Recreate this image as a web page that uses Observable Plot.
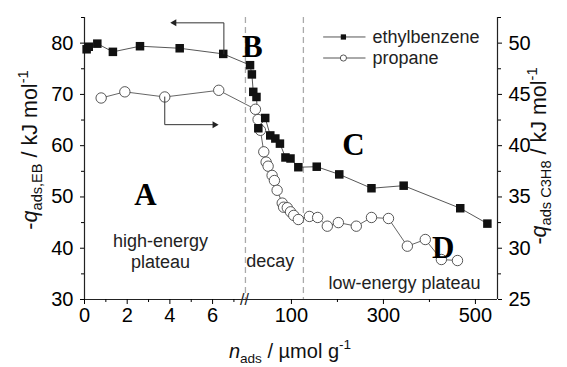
<!DOCTYPE html>
<html><head><meta charset="utf-8">
<script src="https://cdn.jsdelivr.net/npm/d3@7"></script>
<script src="https://cdn.jsdelivr.net/npm/@observablehq/plot@0.6"></script>
<style>body{margin:0;background:#fff}</style>
</head><body><div id="chart"></div>
<script>
// ---- data ----
// ethylbenzene, left axis (kJ/mol); "Low" = 0–7 µmol/g segment, "High" = segment after the axis break
const ebLowX  = [0.1, 0.2, 0.6, 1.33, 2.6, 4.46, 6.5];
const ebLowY  = [78.8, 79.3, 79.9, 78.3, 79.4, 79.0, 77.9];
const ebHighX = [10, 14, 17, 24, 28, 43, 54, 65, 75, 87, 98, 115, 155, 204, 274, 344, 467, 526];
const ebHighY = [75.7, 73.9, 70.5, 69.5, 63.4, 65.4, 62.0, 61.4, 60.4, 57.7, 57.5, 55.8, 55.9, 54.4, 51.7, 52.2, 47.8, 44.8];
// propane, right axis (kJ/mol)
const prLowX  = [0.78, 1.89, 3.76, 6.29];
const prLowY  = [44.65, 45.25, 44.75, 45.4];
const prHighX = [21.7, 27.5, 32.6, 39.9, 45, 49.3, 58, 63, 68.9, 80, 83, 91, 98, 105, 115, 139, 157, 178, 202, 241, 274, 311, 352, 391, 426, 461];
const prHighY = [43.55, 42.55, 41.5, 39.4, 38.4, 38.0, 37.1, 36.6, 35.65, 34.4, 34.0, 33.95, 33.55, 33.2, 32.8, 33.1, 33.0, 32.15, 32.5, 32.15, 33.0, 32.9, 30.2, 30.85, 28.9, 28.8];
// axis ticks
const xMajorLow = [0, 2, 4, 6];
const xMinorLow = [1, 3, 5, 7];
const xMajorHigh = [100, 300, 500];
const xMinorHigh = [200, 400];
const yLeftMajor = [30, 40, 50, 60, 70, 80];
const yLeftMinor = [35, 45, 55, 65, 75, 85];
const seriesNames = ["ethylbenzene", "propane"];
const regionLabels = ["high-energy\nplateau", "decay", "low-energy plateau"];
const letters = ["A", "B", "C", "D"];

// broken x axis: low segment 0..BRK, high segment (0..HMAX) compressed by K after the break
const BRK = 7.54, K = 0.02155, HMAX = 548;
const uL = x => x;
const uH = x => BRK + x * K;
// right axis (propane) <-> left axis units
const toLeft = r => 30 + (r - 25) * 2;
const toRight = l => 25 + (l - 30) / 2;

const eb = [
  ...ebLowX.map((x, i) => ({u: uL(x), y: ebLowY[i]})),
  ...ebHighX.map((x, i) => ({u: uH(x), y: ebHighY[i]}))
];
const pr = [
  ...prLowX.map((x, i) => ({u: uL(x), y: toLeft(prLowY[i])})),
  ...prHighX.map((x, i) => ({u: uH(x), y: toLeft(prHighY[i])}))
];
const xMajor = [...xMajorLow.map(d => ({u: uL(d), t: String(d)})), ...xMajorHigh.map(d => ({u: uH(d), t: String(d)}))];
const xMinor = [...xMinorLow.map(uL), ...xMinorHigh.map(uH)];
const labelOf = new Map(xMajor.map(d => [d.u, d.t]));

// annotation placements (data units)
const letterPos = [{t: letters[0], u: uL(2.86), y: 50.3}, {t: letters[1], u: uH(15), y: 79.2},
                   {t: letters[2], u: uH(235), y: 60.1}, {t: letters[3], u: uH(430), y: 40}];
const regionPos = [{t: regionLabels[0], u: uL(3.56), y: 39.5}, {t: regionLabels[1], u: uH(54), y: 37.6},
                   {t: regionLabels[2], u: uH(346), y: 33.3}];
const ebArrow = [{u: uL(6.53), y: 77.9}, {u: uL(6.53), y: 83.96}, {u: uL(4.3), y: 83.96}];
const prArrow = [{u: uL(3.76), y: 69.5}, {u: uL(3.76), y: 64.1}, {u: uL(6.0), y: 64.1}];
const legend = [
  {name: seriesNames[0], y: 81.2, fill: "#111", symbol: "square", stroke: "none"},
  {name: seriesNames[1], y: 77.1, fill: "white", symbol: "circle", stroke: "#444"}
];
const LEG = {x1: uH(169), x2: uH(261), xm: uH(213), xt: uH(276)};

const FS = 19;

const svg = Plot.plot({
  width: 567, height: 367,
  marginLeft: 84, marginRight: 70, marginTop: 17, marginBottom: 68,
  x: {domain: [0, uH(HMAX)]},
  y: {domain: [30, 85]},
  style: {fontFamily: "Liberation Sans, Arial, sans-serif", fontSize: FS + "px", background: "white", color: "black"},
  marks: [
    Plot.ruleX([uH(0), uH(126)], {stroke: "#aaa", strokeWidth: 1.3, strokeDasharray: "6,4"}),
    // axis lines
    Plot.ruleY([30], {stroke: "#222", strokeWidth: 1.2}),
    Plot.ruleX([0, uH(HMAX)], {stroke: "#222", strokeWidth: 1.2}),
    // x axis
    Plot.axisX(xMajor.map(d => d.u), {tickSize: 5, tickPadding: 3, tickFormat: d => labelOf.get(d), label: null, fontSize: FS + 1}),
    Plot.axisX(xMinor, {tickSize: 3, tickFormat: () => "", label: null}),
    // left y axis
    Plot.axisY(yLeftMajor, {anchor: "left", tickSize: 4, tickPadding: 7, label: null, fontSize: FS + 1}),
    Plot.axisY(yLeftMinor, {anchor: "left", tickSize: 3, tickFormat: () => "", label: null}),
    // right y axis (propane)
    Plot.axisY(yLeftMajor, {anchor: "right", tickSize: 4, tickPadding: 7, tickFormat: d => String(toRight(d)), label: null, fontSize: FS + 1}),
    Plot.axisY(yLeftMinor, {anchor: "right", tickSize: 3, tickFormat: () => "", label: null}),
    // axis break mark
    Plot.text([uH(0)], {x: d => d - 0.05, y: () => 30, text: () => "//", fontSize: 16, fill: "#222"}),
    // series
    Plot.line(eb, {x: "u", y: "y", stroke: "#444", strokeWidth: 0.9}),
    Plot.line(pr, {x: "u", y: "y", stroke: "#555", strokeWidth: 0.9}),
    Plot.dot(pr, {x: "u", y: "y", r: 5.2, fill: "white", stroke: "#444", strokeWidth: 0.9}),
    Plot.dot(eb, {x: "u", y: "y", r: 4.8, symbol: "square", fill: "#111"}),
    // arrows
    Plot.line(ebArrow, {x: "u", y: "y", stroke: "#333", strokeWidth: 1}),
    Plot.line(prArrow, {x: "u", y: "y", stroke: "#333", strokeWidth: 1}),
    Plot.dot([ebArrow[2]], {x: "u", y: "y", symbol: "triangle", r: 2.6, fill: "#222", rotate: -90, dx: -2}),
    Plot.dot([prArrow[2]], {x: "u", y: "y", symbol: "triangle", r: 2.6, fill: "#222", rotate: 90, dx: 2}),
    // region labels
    Plot.text(regionPos, {x: "u", y: "y", text: "t", fontSize: 18, fill: "#222", lineHeight: 1.15}),
    // letters
    Plot.text(letterPos, {x: "u", y: "y", text: "t", fontSize: 31, fontWeight: "bold", fontFamily: "Liberation Serif, Times New Roman, serif", fill: "black"}),
    // legend
    Plot.link(legend, {x1: () => LEG.x1, x2: () => LEG.x2, y1: "y", y2: "y", stroke: "#555", strokeWidth: 1}),
    Plot.dot(legend, {x: () => LEG.xm, y: "y", symbol: "symbol", fill: "fill", stroke: "stroke", r: d => d.symbol === "square" ? 4.2 : 4.5, strokeWidth: 0.9}),
    Plot.text(legend, {x: () => LEG.xt, y: "y", text: "name", textAnchor: "start", fontSize: 18, fill: "#222"})
  ]
});

// axis titles with sub/superscripts
const s = d3.select(svg);
function title(x, y, rot, parts, fs) {
  const t = s.append("text")
    .attr("transform", `translate(${x},${y}) rotate(${rot})`)
    .attr("text-anchor", "middle")
    .attr("font-family", "Liberation Sans, Arial, sans-serif")
    .attr("font-size", fs)
    .attr("fill", "#111");
  for (const p of parts) {
    const ts = t.append("tspan").text(p.t);
    if (p.i) ts.attr("font-style", "italic");
    if (p.sub) ts.attr("font-size", fs * 0.68).attr("dy", 5);
    if (p.sup) ts.attr("font-size", fs * 0.68).attr("dy", -9);
    if (p.back) ts.attr("dy", p.back);
  }
}
title(290, 358, 0, [{t: "n", i: true}, {t: "ads", sub: true}, {t: " / µmol g", back: -5}, {t: "-1", sup: true}], 20);
title(37, 150, -90, [{t: "-"}, {t: "q", i: true}, {t: "ads,EB", sub: true}, {t: " / kJ mol", back: -5}, {t: "-1", sup: true}], 21.5);
title(546, 156, -90, [{t: "-"}, {t: "q", i: true}, {t: "ads C3H8", sub: true}, {t: " / kJ mol", back: -5}, {t: "-1", sup: true}], 21.5);

document.getElementById("chart").appendChild(svg);
</script></body></html>
